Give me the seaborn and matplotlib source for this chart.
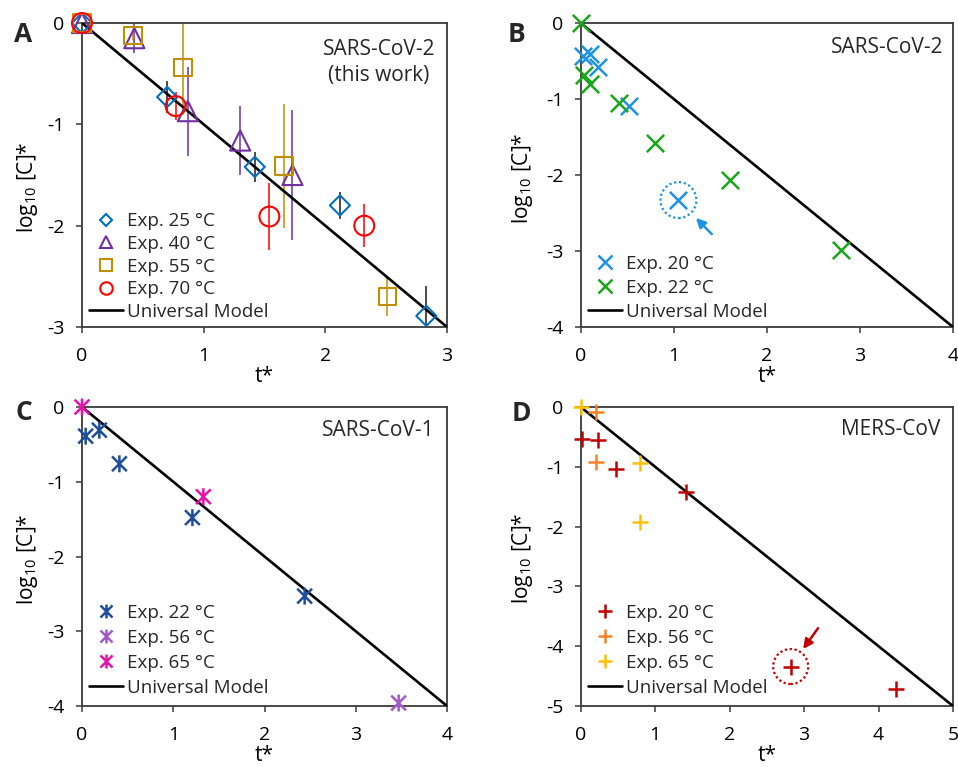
import matplotlib
matplotlib.use("Agg")
import matplotlib.pyplot as plt
from matplotlib.path import Path
from matplotlib.lines import Line2D
import seaborn as sns

# ---------------- data ----------------
# Panel A: SARS-CoV-2 (this work)
a25_t = [0.00, 0.70, 1.42, 2.12, 2.83]
a25_y = [0.00, -0.73, -1.42, -1.80, -2.89]
a25_err = [0.00, 0.16, 0.15, 0.13, 0.29]
a40_t = [0.00, 0.43, 0.87, 1.30, 1.73]
a40_y = [0.00, -0.15, -0.87, -1.16, -1.50]
a40_err = [0.00, 0.15, 0.44, 0.34, 0.64]
a55_t = [0.00, 0.42, 0.83, 1.66, 2.51]
a55_y = [0.00, -0.12, -0.44, -1.41, -2.70]
a55_err = [0.00, 0.05, 0.43, 0.61, 0.19]
a70_t = [0.00, 0.77, 1.54, 2.32]
a70_y = [0.00, -0.82, -1.91, -2.00]
a70_err = [0.00, 0.14, 0.33, 0.21]
a_model_t = [0, 3]
a_model_y = [0, -3]

# Panel B: SARS-CoV-2
b20_t = [0.02, 0.10, 0.19, 0.52, 1.05]
b20_y = [-0.43, -0.41, -0.58, -1.09, -2.33]
b22_t = [0.00, 0.04, 0.10, 0.41, 0.80, 1.60, 2.80]
b22_y = [0.00, -0.68, -0.80, -1.05, -1.58, -2.07, -2.99]
b_model_t = [0, 4]
b_model_y = [0, -4]
b_circled = 4  # index in b20 highlighted

# Panel C: SARS-CoV-1
c22_t = [0.04, 0.19, 0.41, 1.21, 2.44]
c22_y = [-0.39, -0.31, -0.76, -1.48, -2.53]
c56_t = [3.47]
c56_y = [-3.96]
c65_t = [0.00, 1.33]
c65_y = [0.00, -1.20]
c_model_t = [0, 4]
c_model_y = [0, -4]

# Panel D: MERS-CoV
d20_t = [0.02, 0.23, 0.47, 1.41, 2.82, 4.24]
d20_y = [-0.54, -0.56, -1.03, -1.42, -4.34, -4.72]
d56_t = [0.21, 0.21]
d56_y = [-0.08, -0.92]
d65_t = [0.00, 0.80, 0.80]
d65_y = [0.00, -0.93, -1.93]
d_model_t = [0, 5]
d_model_y = [0, -5]
d_circled = 4

a_xticks = [0, 1, 2, 3]
a_yticks = [0, -1, -2, -3]
b_xticks = [0, 1, 2, 3, 4]
b_yticks = [0, -1, -2, -3, -4]
c_xticks = [0, 1, 2, 3, 4]
c_yticks = [0, -1, -2, -3, -4]
d_xticks = [0, 1, 2, 3, 4, 5]
d_yticks = [0, -1, -2, -3, -4, -5]

# ---------------- style ----------------
sns.set_theme(style="ticks")
plt.rcParams["font.family"] = ["Open Sans", "DejaVu Sans"]
plt.rcParams["mathtext.fontset"] = "custom"
plt.rcParams["mathtext.rm"] = "Open Sans"
plt.rcParams["mathtext.it"] = "Open Sans:italic"
plt.rcParams["mathtext.bf"] = "Open Sans:bold"
plt.rcParams["axes.unicode_minus"] = False

TICK_FS = 14
LAB_FS = 15
LEG_FS = 13.5
NOTE_FS = 15
SPINE = "#3a3a3a"

C25, C40, C55, C70 = "#0070C0", "#7030A0", "#BF8F00", "#FF0000"
CB20, CB22 = "#1C93E3", "#1BA51B"
CC22, CC56, CC65 = "#1F4E99", "#A05AC8", "#E812A8"
CD20, CD56, CD65 = "#C00000", "#F5822A", "#FFC000"

STAR = Path([(-1, -1), (1, 1), (-1, 1), (1, -1), (0, -1.15), (0, 1.15)],
            [Path.MOVETO, Path.LINETO, Path.MOVETO, Path.LINETO, Path.MOVETO, Path.LINETO])

fig = plt.figure(figsize=(9.58, 7.67), dpi=100)
W, H = 958, 767


def add_axes(l, t, r, b):
    return fig.add_axes([l / W, 1 - b / H, (r - l) / W, (b - t) / H])


axA = add_axes(82, 23, 447, 327)
axB = add_axes(580.7, 23, 953, 327)
axC = add_axes(82, 407, 447, 706)
axD = add_axes(580.7, 407, 953, 706)


def style(ax, xt, yt, ylab_x, ylab_y):
    ax.set_xlim(min(xt), max(xt))
    ax.set_ylim(min(yt), max(yt))
    ax.set_xticks(xt)
    ax.set_xticklabels([str(v) for v in xt])
    ax.set_yticks(yt)
    ax.set_yticklabels([str(v) for v in yt])
    for s in ax.spines.values():
        s.set_visible(True)
        s.set_color(SPINE)
        s.set_linewidth(1.3)
    ax.tick_params(axis="both", direction="out", length=4.5, width=1.1,
                   color=SPINE, labelsize=TICK_FS, labelcolor="black")
    ax.tick_params(axis="x", pad=10)
    ax.tick_params(axis="y", pad=8)
    ax.set_xlabel("t*", fontsize=LAB_FS, color="black")
    ax.set_ylabel(r"log$\mathregular{_{10}}$ [C]*", fontsize=LAB_FS, color="black")
    h_px = ax.get_position().height * H
    ax.xaxis.set_label_coords(0.5, -39.0 / h_px)
    ax.yaxis.set_label_coords(ylab_x, ylab_y)
    ax.grid(False)


def model(ax, t, y):
    sns.lineplot(x=t, y=y, ax=ax, color="black", linewidth=1.9, zorder=3, legend=False)


def open_pts(ax, t, y, marker, color, s, err=None, ecolor=None, lw=1.5):
    if err is not None:
        ax.errorbar(t, y, yerr=err, fmt="none", ecolor=ecolor or color,
                    elinewidth=1.1, capsize=0, zorder=2)
    sns.scatterplot(x=t, y=y, ax=ax, marker=marker, s=s, facecolor="none",
                    edgecolor=color, linewidth=lw, zorder=4, clip_on=False, legend=False)


def line_pts(ax, t, y, marker, color, s, lw=1.8):
    sns.scatterplot(x=t, y=y, ax=ax, marker=marker, s=s, color=color,
                    linewidth=lw, zorder=4, clip_on=False, legend=False)


def legend(ax, handles, labels, anchor, spacing):
    ax.legend(handles, labels, loc="lower left", bbox_to_anchor=anchor,
              frameon=False, fontsize=LEG_FS, handlelength=1.8,
              handletextpad=0.2, labelspacing=spacing, borderpad=0,
              borderaxespad=0)


def mk(marker, color, ms, mew=1.5):
    return Line2D([], [], ls="none", marker=marker, markersize=ms, color=color,
                  markerfacecolor="none", markeredgecolor=color, markeredgewidth=mew)


model_handle = Line2D([], [], color="black", lw=1.9)

# ---- Panel A ----
model(axA, a_model_t, a_model_y)
open_pts(axA, a25_t, a25_y, "D", C25, 105, a25_err, "#1a1a1a")
open_pts(axA, a40_t, a40_y, "^", C40, 210, a40_err)
open_pts(axA, a55_t, a55_y, "s", C55, 155, a55_err)
open_pts(axA, a70_t, a70_y, "o", C70, 205, a70_err)
style(axA, a_xticks, a_yticks, -0.115, 0.46)
legend(axA, [mk("D", C25, 6.3), mk("^", C40, 9), mk("s", C55, 8.5), mk("o", C70, 9), model_handle],
       ["Exp. 25 °C", "Exp. 40 °C", "Exp. 55 °C", "Exp. 70 °C", "Universal Model"], (0.02, 0.02), 0.25)
axA.text(0.967, 0.87, "SARS-CoV-2\n(this work)", transform=axA.transAxes, ha="right",
         va="center", multialignment="center", fontsize=NOTE_FS, linespacing=1.3)

# ---- Panel B ----
model(axB, b_model_t, b_model_y)
line_pts(axB, b20_t, b20_y, "x", CB20, 155)
line_pts(axB, b22_t, b22_y, "x", CB22, 155)
axB.scatter([b20_t[b_circled]], [b20_y[b_circled]], s=670, facecolors="none",
            edgecolors=CB20, linewidths=1.6, linestyles=(0, (1, 1.2)), zorder=5, clip_on=False)
axB.annotate("", xy=(b20_t[b_circled], b20_y[b_circled]), xytext=(24, -24.5),
             textcoords="offset points",
             arrowprops=dict(arrowstyle="-|>", color=CB20, lw=1.8, shrinkA=0, shrinkB=18,
                             mutation_scale=14))
style(axB, b_xticks, b_yticks, -0.123, 0.488)
legend(axB, [mk("x", CB20, 10.5, 1.8), mk("x", CB22, 10.5, 1.8), model_handle],
       ["Exp. 20 °C", "Exp. 22 °C", "Universal Model"], (0.02, 0.02), 0.32)
axB.text(0.975, 0.918, "SARS-CoV-2", transform=axB.transAxes, ha="right", va="center",
         fontsize=NOTE_FS)

# ---- Panel C ----
model(axC, c_model_t, c_model_y)
open_pts(axC, c22_t, c22_y, STAR, CC22, 150, lw=1.8)
open_pts(axC, c56_t, c56_y, STAR, CC56, 150, lw=1.8)
open_pts(axC, c65_t, c65_y, STAR, CC65, 150, lw=1.8)
style(axC, c_xticks, c_yticks, -0.115, 0.49)
legend(axC, [mk(STAR, CC22, 10, 1.8), mk(STAR, CC56, 10, 1.8), mk(STAR, CC65, 10, 1.8), model_handle],
       ["Exp. 22 °C", "Exp. 56 °C", "Exp. 65 °C", "Universal Model"], (0.02, 0.03), 0.38)
axC.text(0.967, 0.923, "SARS-CoV-1", transform=axC.transAxes, ha="right", va="center",
         fontsize=NOTE_FS)

# ---- Panel D ----
model(axD, d_model_t, d_model_y)
line_pts(axD, d20_t, d20_y, "+", CD20, 140)
line_pts(axD, d56_t, d56_y, "+", CD56, 140)
line_pts(axD, d65_t, d65_y, "+", CD65, 140)
axD.scatter([d20_t[d_circled]], [d20_y[d_circled]], s=635, facecolors="none",
            edgecolors=CD20, linewidths=1.6, linestyles=(0, (1, 1.2)), zorder=5, clip_on=False)
axD.annotate("", xy=(d20_t[d_circled], d20_y[d_circled]), xytext=(19.7, 27.6),
             textcoords="offset points",
             arrowprops=dict(arrowstyle="-|>", color=CD20, lw=1.8, shrinkA=0, shrinkB=15.5,
                             mutation_scale=14))
style(axD, d_xticks, d_yticks, -0.123, 0.493)
legend(axD, [mk("+", CD20, 10, 1.8), mk("+", CD56, 10, 1.8), mk("+", CD65, 10, 1.8), model_handle],
       ["Exp. 20 °C", "Exp. 56 °C", "Exp. 65 °C", "Universal Model"], (0.02, 0.03), 0.38)
axD.text(0.965, 0.926, "MERS-CoV", transform=axD.transAxes, ha="right", va="center",
         fontsize=NOTE_FS)

# panel letters
for lab, (px, py) in zip("ABCD", [(23, 34), (517, 34), (23.5, 412.5), (521, 414)]):
    fig.text(px / W, 1 - py / H, lab, fontsize=19, fontweight="bold", ha="center", va="center")

fig.savefig("out.png", dpi=100)
